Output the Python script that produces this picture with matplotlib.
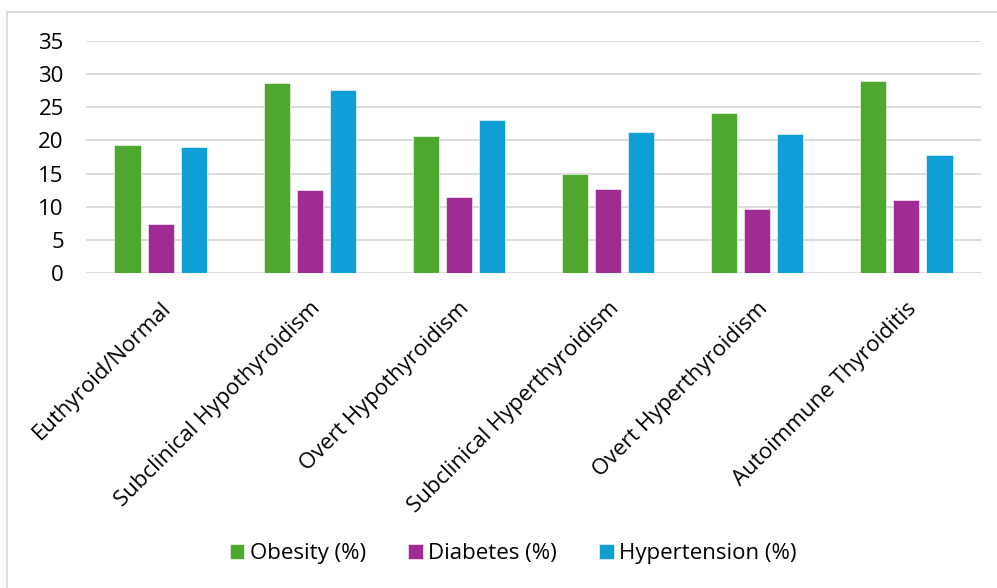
import matplotlib.pyplot as plt
import numpy as np
from matplotlib.patches import Rectangle

categories = ["Euthyroid/Normal", "Subclinical Hypothyroidism", "Overt Hypothyroidism",
              "Subclinical Hyperthyroidism", "Overt Hyperthyroidism", "Autoimmune Thyroiditis"]
obesity = [19.3, 28.7, 20.7, 14.9, 24.2, 28.9]
diabetes = [7.4, 12.5, 11.4, 12.7, 9.7, 11.0]
hypertension = [19.0, 27.6, 23.1, 21.2, 20.9, 17.8]
series = [("Obesity (%)", obesity, "#4ea72e"),
          ("Diabetes (%)", diabetes, "#a02b93"),
          ("Hypertension (%)", hypertension, "#0f9ed5")]

plt.rcParams['font.family'] = ['Open Sans', 'DejaVu Sans']

fig = plt.figure(figsize=(9.97, 5.88), dpi=100)
ax = fig.add_axes([86 / 997, 1 - 273 / 588, (981 - 86) / 997, (273 - 41) / 588])

x = np.arange(len(categories))
width = 0.175
step = 0.222
for i, (name, vals, color) in enumerate(series):
    ax.bar(x + (i - 1) * step, vals, width, color=color, label=name, zorder=3,
           edgecolor="white", linewidth=0.4)

ax.set_xlim(-0.5, len(categories) - 0.5)
ax.set_ylim(0, 35)
ax.set_yticks(range(0, 36, 5))
ax.yaxis.grid(True, color="#d9d9d9", linewidth=1.3, zorder=0)
ax.set_axisbelow(True)
for s in ax.spines.values():
    s.set_visible(False)
ax.tick_params(axis="both", length=0, labelsize=16, colors="black")
ax.tick_params(axis="y", pad=16)
ax.set_xticks(x)
ax.set_xticklabels(categories, rotation=45, ha="right", rotation_mode="anchor")
ax.tick_params(axis="x", pad=18)

fig.legend(loc="center", bbox_to_anchor=(0.515, 1 - 554 / 588), ncol=3, frameon=False,
           fontsize=16, handlelength=0.65, handleheight=0.65, handletextpad=0.25,
           columnspacing=1.9)

fig.patches.append(Rectangle((7 / 997, -0.1), 1.2, 1 - 12 / 588 + 0.1, transform=fig.transFigure,
                             fill=False, edgecolor="#d9d9d9", linewidth=1.3, zorder=0))

fig.savefig("out.png", dpi=100)
